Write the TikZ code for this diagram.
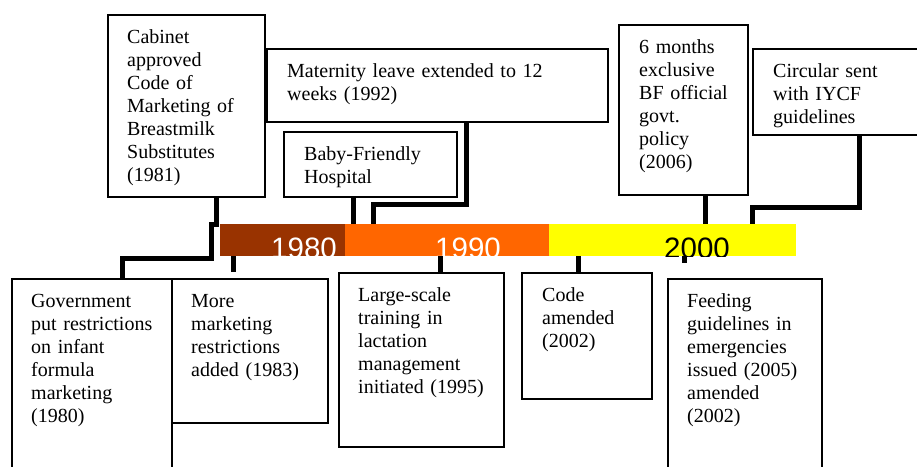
\documentclass[tikz,border=0pt]{standalone}
\usepackage{fontspec}
\setmainfont{Liberation Serif}
\newfontfamily\yearfont{Liberation Sans}
\usetikzlibrary{calc}
\definecolor{barbrown}{HTML}{993300}
\definecolor{barorange}{HTML}{FF6600}
\definecolor{baryellow}{HTML}{FFFF00}
\begin{document}
\begin{tikzpicture}[x=1pt,y=-1pt,
  evbox/.style={draw, line width=1.5pt, inner sep=0pt, outer sep=0pt, anchor=north west},
  evtxt/.style={anchor=north west, inner sep=0pt, text width=400pt, align=left,
    font=\fontsize{20}{23}\selectfont, execute at begin node=\strut},
  barseg/.style={draw=none, inner sep=0pt, outer sep=0pt, anchor=north west, minimum height=32pt},
  yeartxt/.style={anchor=base west, inner sep=0pt, font=\yearfont\fontsize{29.5}{30}\selectfont},
  conn/.style={line width=5pt, line cap=butt, line join=miter}]
\useasboundingbox (0,0) rectangle (917,466);
% timeline bar
\node[barseg, fill=barbrown, minimum width=125pt] (b80) at (220,224) {};
\node[barseg, fill=barorange, minimum width=204pt] (b90) at (345,224) {};
\node[barseg, fill=baryellow, minimum width=247pt] (b00) at (549,224) {};
\begin{scope}
  \clip (b80.north west) rectangle (b00.south east);
  \node[yeartxt, text=white] (y80) at (271,258) {1980};
  \node[yeartxt, text=white] (y90) at (435,258) {1990};
  \node[yeartxt, text=black] (y00) at (664,258) {2000};
\end{scope}
% top boxes
\node[evbox, minimum width=157pt, minimum height=182pt] (cab) at (108,15) {};
\node[evtxt] (cabt) at ($(cab.north west)+(19,12.6)$) {Cabinet\\approved\\Code of\\Marketing of\\Breastmilk\\Substitutes\\(1981)};
\node[evbox, minimum width=341pt, minimum height=73pt] (mat) at (267,49) {};
\node[evtxt] (matt) at ($(mat.north west)+(20,12.6)$) {Maternity leave extended to 12\\weeks (1992)};
\node[evbox, minimum width=173pt, minimum height=65pt] (bfh) at (284,132) {};
\node[evtxt] (bfht) at ($(bfh.north west)+(20,12.6)$) {Baby-Friendly\\Hospital};
\node[evbox, minimum width=129pt, minimum height=170pt] (six) at (619,25) {};
\node[evtxt] (sixt) at ($(six.north west)+(20,12.2)$) {6 months\\exclusive\\BF official\\govt.\\policy\\(2006)};
\node[evbox, minimum width=175pt, minimum height=86pt] (circ) at (753,49) {};
\node[evtxt] (circt) at ($(circ.north west)+(20,12.2)$) {Circular sent\\with IYCF\\guidelines};
% bottom boxes
\node[evbox, minimum width=160pt, minimum height=200pt] (gov) at (12,279) {};
\node[evtxt] (govt) at ($(gov.north west)+(19,12.6)$) {Government\\put restrictions\\on infant\\formula\\marketing\\(1980)};
\node[evbox, minimum width=156pt, minimum height=144pt] (more) at (172,279) {};
\node[evtxt] (moret) at ($(more.north west)+(19,12.6)$) {More\\marketing\\restrictions\\added (1983)};
\node[evbox, minimum width=165pt, minimum height=174pt] (lsc) at (339,273) {};
\node[evtxt] (lsct) at ($(lsc.north west)+(19,12.6)$) {Large-scale\\training in\\lactation\\management\\initiated (1995)};
\node[evbox, minimum width=130pt, minimum height=126pt] (code) at (522,273) {};
\node[evtxt] (codet) at ($(code.north west)+(20,12.6)$) {Code\\amended\\(2002)};
\node[evbox, minimum width=154pt, minimum height=200pt] (feed) at (668,279) {};
\node[evtxt] (feedt) at ($(feed.north west)+(19,12.6)$) {Feeding\\guidelines in\\emergencies\\issued (2005)\\amended\\(2002)};
% connectors
\draw[conn] ($(cab.south west)+(108,0)$) -- ++(0,27) -- ++(-5,0)
  |- ($(gov.north west)+(110,-21)$) -- ($(gov.north west)+(110,0)$);
\coordinate (s80) at ($(b80.south west)+(13,0)$);
\draw[conn] (s80) -- ++(0,16);
\coordinate (pb) at ($(bfh.south west)+(69,0)$);
\draw[conn] (pb) -- (pb |- b90.north);
\draw[conn] ($(mat.south west)+(199,0)$) |- ($(b90.north west)+(28,-20)$) -- ($(b90.north west)+(28,0)$);
\draw[conn] ($(b90.south west)+(95,0)$) -- ($(lsc.north west)+(101,0)$);
\draw[conn] ($(b00.south west)+(29,0)$) -- ($(code.north west)+(56,0)$);
\coordinate (s00) at ($(b00.south west)+(135,0)$);
\draw[conn] (s00) -- ++(0,7);
\draw[conn] ($(six.south west)+(86,0)$) -- ($(b00.north west)+(156,0)$);
\draw[conn] ($(circ.south west)+(106,0)$) |- ($(b00.north west)+(203,-17)$) -- ($(b00.north west)+(203,0)$);
\end{tikzpicture}
\end{document}
